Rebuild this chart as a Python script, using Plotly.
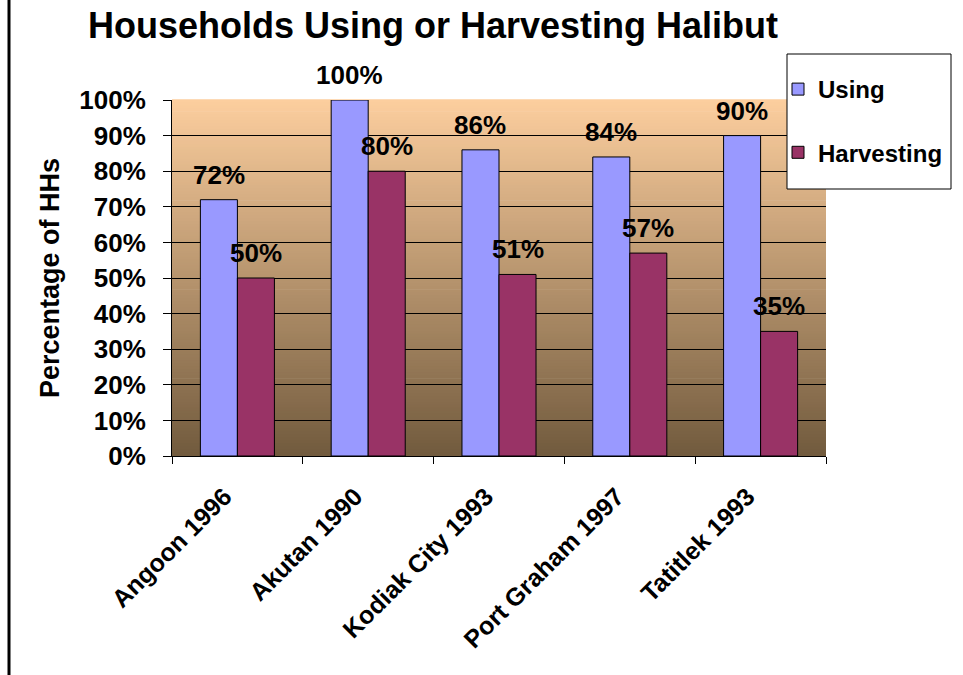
import plotly.graph_objects as go

categories = ["Angoon 1996", "Akutan 1990", "Kodiak City 1993", "Port Graham 1997", "Tatitlek 1993"]
using = [72, 100, 86, 84, 90]
harvesting = [50, 80, 51, 57, 35]
y_ticks = [0, 10, 20, 30, 40, 50, 60, 70, 80, 90, 100]
y_tick_labels = [f"{v}%" for v in y_ticks]

FONT = "Arial, Liberation Sans, sans-serif"
L, R, T, B = 172, 137, 100, 219
W, H = 963, 675
pw, ph = W - L - R, H - T - B

def px_x(x):
    return (x - L) / pw

def px_y(y):
    return (H - B - y) / ph

fig = go.Figure()
fig.add_trace(go.Bar(x=categories, y=using, name="Using", marker=dict(color="#9999FF", line=dict(color="#000", width=1)),
                     legendgroup="a"))
fig.add_trace(go.Bar(x=categories, y=harvesting, name="Harvesting", marker=dict(color="#993366", line=dict(color="#000", width=1)),
                     legendgroup="b"))

# gradient background stripes
top = (252, 206, 158)
bot = (114, 91, 62)
n = 120
for i in range(n):
    t = i / (n - 1)
    c = tuple(int(round(top[k] + (bot[k] - top[k]) * t)) for k in range(3))
    fig.add_shape(type="rect", xref="x domain", yref="y domain", x0=0, x1=1,
                  y0=1 - (i + 1) / n, y1=1 - i / n + 0.002, fillcolor=f"rgb{c}", line=dict(width=0), layer="below")

bw = 0.283
for vals, off in ((using, -bw / 2), (harvesting, bw / 2)):
    for i, v in enumerate(vals):
        fig.add_annotation(x=i + off, y=v, text=f"<b>{v}%</b>", showarrow=False, xref="x", yref="y",
                           xanchor="center", yanchor="middle", yshift=25,
                           font=dict(size=26, color="#000", family=FONT))

fig.add_annotation(x=px_x(50), y=px_y(278), xref="paper", yref="paper", text="<b>Percentage of HHs</b>",
                   textangle=-90, showarrow=False, xanchor="center", yanchor="middle",
                   font=dict(size=27, color="#000", family=FONT))

# left frame line
fig.add_shape(type="line", xref="paper", yref="paper", x0=px_x(9), x1=px_x(9),
              y0=-B / ph, y1=(ph + T) / ph, line=dict(color="#000", width=3))

# legend frame
fig.add_shape(type="rect", xref="paper", yref="paper", x0=px_x(787), x1=px_x(951), y0=px_y(189), y1=px_y(54),
              fillcolor="white", line=dict(color="#000", width=1), layer="above")

fig.update_layout(
    width=W, height=H,
    margin=dict(l=L, r=R, t=T, b=B, autoexpand=False),
    paper_bgcolor="white", plot_bgcolor="rgba(0,0,0,0)",
    barmode="group", bargap=0.434, bargroupgap=0,
    title=dict(text="<b>Households Using or Harvesting Halibut</b>", x=433 / W, xref="container", xanchor="center",
               y=1 - 25 / H, yanchor="middle", font=dict(size=36, color="#000", family=FONT)),
    font=dict(family=FONT, color="#000"),
    legend=dict(x=px_x(778), y=px_y(67), xanchor="left", yanchor="top",
                bgcolor="rgba(0,0,0,0)", borderwidth=0,
                font=dict(size=24, family=FONT, color="#000", weight="bold"),
                tracegroupgap=29, traceorder="grouped"),
    xaxis=dict(tickangle=-45, tickson="boundaries", ticks="outside", ticklen=7, tickcolor="#000",
               showline=True, linecolor="#000", linewidth=1, showgrid=False,
               ticklabelstandoff=15, ticklabelshift=-13,
               tickfont=dict(size=25, family=FONT, color="#000", weight="bold")),
    yaxis=dict(range=[0, 100], tickvals=y_ticks, ticktext=y_tick_labels, ticks="outside", ticklen=8, tickcolor="#000",
               showline=True, linecolor="#000", linewidth=1, showgrid=True, gridcolor="#000", gridwidth=1,
               ticklabelstandoff=12,
               zeroline=False, tickfont=dict(size=26, family=FONT, color="#000", weight="bold")),
)

fig.write_html("out.html", config={"displayModeBar": False},
               post_script="document.body.style.margin='0';")
